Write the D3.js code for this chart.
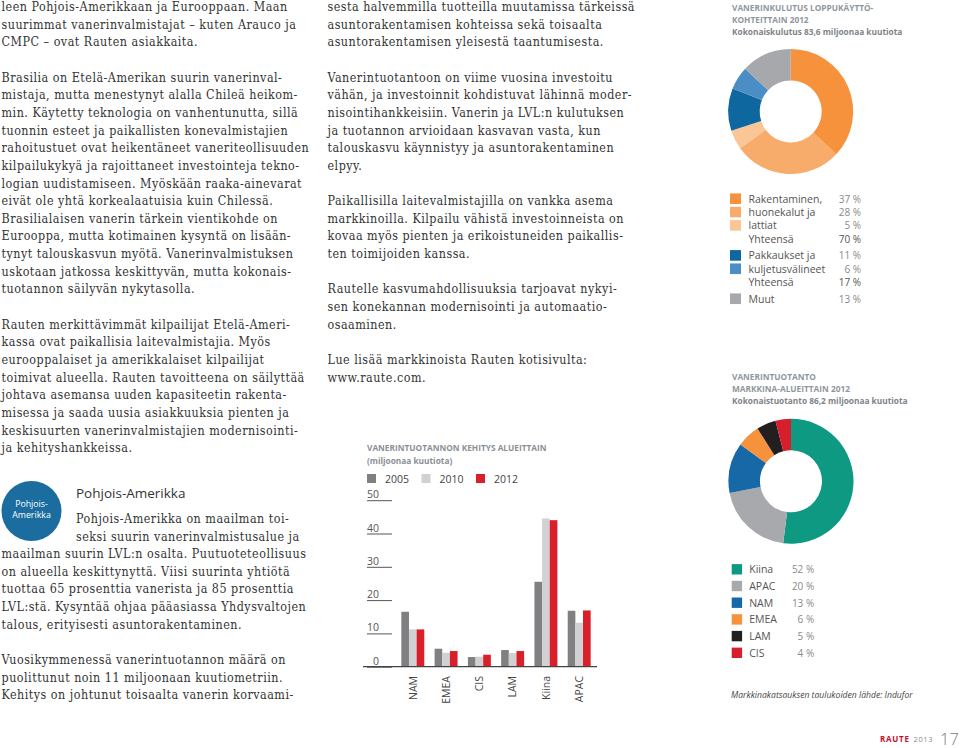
<!DOCTYPE html>
<html>
<head>
<meta charset="utf-8">
<script src="https://cdn.jsdelivr.net/npm/d3@7"></script>
<style>
  body { margin: 0; background: #fff; }
  svg { display: block; }
  .body-text { font-family: "DejaVu Serif", serif; font-stretch: condensed; font-size: 12.4px; letter-spacing: 0.5px; fill: #333; }
  .sans { font-family: "Open Sans", sans-serif; }
</style>
</head>
<body>
<script>
// --- bar chart: vanerintuotannon kehitys alueittain (milj. m3)
var regions = ["NAM", "EMEA", "CIS", "LAM", "Kiina", "APAC"];
var years = ["2005", "2010", "2012"];
var v2005 = [16.5, 5.4, 2.9, 5.0, 25.5, 16.8];
var v2010 = [11.2, 4.2, 3.0, 4.1, 44.5, 13.2];
var v2012 = [11.2, 4.7, 3.6, 4.7, 44.0, 16.9];
var yTicks = [0, 10, 20, 30, 40, 50];
var yearColors = ["#808083", "#d1d1d3", "#d81f2a"];

// --- donut 1: vanerinkulutus loppukäyttökohteittain 2012 (%)
var useLabels = ["Rakentaminen,", "huonekalut ja", "lattiat", "Pakkaukset ja", "kuljetusvälineet", "Muut"];
var useShares = [37, 28, 5, 11, 6, 13];
var useGroups = [0, 0, 0, 1, 1, 2];
var useColors = ["#f6923b", "#f8ac6b", "#fbc695", "#0f67a0", "#4b8ec6", "#a7a8ab"];

// --- donut 2: vanerintuotanto markkina-alueittain 2012 (%)
var areaLabels = ["Kiina", "APAC", "NAM", "EMEA", "LAM", "CIS"];
var areaShares = [52, 20, 13, 6, 5, 4];
var areaColors = ["#0e9983", "#a8a9ac", "#1668a7", "#f6923b", "#231f20", "#d71f2b"];

// --- body text
var col1 = [
  "leen Pohjois-Amerikkaan ja Eurooppaan. Maan",
  "suurimmat vanerinvalmistajat – kuten Arauco ja",
  "CMPC – ovat Rauten asiakkaita.",
  "",
  "Brasilia on Etelä-Amerikan suurin vanerinval-",
  "mistaja, mutta menestynyt alalla Chileä heikom-",
  "min. Käytetty teknologia on vanhentunutta, sillä",
  "tuonnin esteet ja paikallisten konevalmistajien",
  "rahoitustuet ovat heikentäneet vaneriteollisuuden",
  "kilpailukykyä ja rajoittaneet investointeja tekno-",
  "logian uudistamiseen. Myöskään raaka-ainevarat",
  "eivät ole yhtä korkealaatuisia kuin Chilessä.",
  "Brasilialaisen vanerin tärkein vientikohde on",
  "Eurooppa, mutta kotimainen kysyntä on lisään-",
  "tynyt talouskasvun myötä. Vanerinvalmistuksen",
  "uskotaan jatkossa keskittyvän, mutta kokonais-",
  "tuotannon säilyvän nykytasolla.",
  "",
  "Rauten merkittävimmät kilpailijat Etelä-Ameri-",
  "kassa ovat paikallisia laitevalmistajia. Myös",
  "eurooppalaiset ja amerikkalaiset kilpailijat",
  "toimivat alueella. Rauten tavoitteena on säilyttää",
  "johtava asemansa uuden kapasiteetin rakenta-",
  "misessa ja saada uusia asiakkuuksia pienten ja",
  "keskisuurten vanerinvalmistajien modernisointi-",
  "ja kehityshankkeissa."
];
var pohjois = [
  "Pohjois-Amerikka on maailman toi-",
  "seksi suurin vanerinvalmistusalue ja",
  "maailman suurin LVL:n osalta. Puutuoteteollisuus",
  "on alueella keskittynyttä. Viisi suurinta yhtiötä",
  "tuottaa 65 prosenttia vanerista ja 85 prosenttia",
  "LVL:stä. Kysyntää ohjaa pääasiassa Yhdysvaltojen",
  "talous, erityisesti asuntorakentaminen.",
  "",
  "Vuosikymmenessä vanerintuotannon määrä on",
  "puolittunut noin 11 miljoonaan kuutiometriin.",
  "Kehitys on johtunut toisaalta vanerin korvaami-"
];
var col2 = [
  "sesta halvemmilla tuotteilla muutamissa tärkeissä",
  "asuntorakentamisen kohteissa sekä toisaalta",
  "asuntorakentamisen yleisestä taantumisesta.",
  "",
  "Vanerintuotantoon on viime vuosina investoitu",
  "vähän, ja investoinnit kohdistuvat lähinnä moder-",
  "nisointihankkeisiin. Vanerin ja LVL:n kulutuksen",
  "ja tuotannon arvioidaan kasvavan vasta, kun",
  "talouskasvu käynnistyy ja asuntorakentaminen",
  "elpyy.",
  "",
  "Paikallisilla laitevalmistajilla on vankka asema",
  "markkinoilla. Kilpailu vähistä investoinneista on",
  "kovaa myös pienten ja erikoistuneiden paikallis-",
  "ten toimijoiden kanssa.",
  "",
  "Rautelle kasvumahdollisuuksia tarjoavat nykyi-",
  "sen konekannan modernisointi ja automaatio-",
  "osaaminen.",
  "",
  "Lue lisää markkinoista Rauten kotisivulta:",
  "www.raute.com."
];

var W = 960, H = 748;
var lineH = 17.65, base0 = 11;

var svg = d3.select("body").append("svg")
    .attr("width", W)
    .attr("height", H);

function textBlock(lines, x, n0, indentLines, indentX) {
  svg.append("g").selectAll("text")
     .data(lines)
     .enter().append("text")
     .attr("class", "body-text")
     .attr("x", function(d, i) { return i < indentLines ? indentX : x; })
     .attr("y", function(d, i) { return base0 + (n0 + i) * lineH; })
     .text(function(d) { return d; });
}

textBlock(col1, 1.5, 0, 0, 0);
textBlock(pohjois, 1.5, 29, 2, 76);
textBlock(col2, 327.5, 0, 0, 0);

// Pohjois-Amerikka badge + heading
svg.append("circle").attr("cx", 31.5).attr("cy", 511).attr("r", 30).attr("fill", "#1a6d9e");
svg.append("text").attr("class", "sans").attr("x", 31.5).attr("y", 507)
   .attr("text-anchor", "middle").attr("font-size", 8.8).attr("fill", "#fff").text("Pohjois-");
svg.append("text").attr("class", "sans").attr("x", 31.5).attr("y", 518)
   .attr("text-anchor", "middle").attr("font-size", 8.8).attr("fill", "#fff").text("Amerikka");
svg.append("text").attr("class", "sans").attr("x", 76).attr("y", 498)
   .attr("font-size", 13.5).attr("fill", "#333").text("Pohjois-Amerikka");

// ---------------- bar chart
var title3 = ["VANERINTUOTANNON KEHITYS ALUEITTAIN", "(miljoonaa kuutiota)"];
svg.append("g").selectAll("text").data(title3).enter().append("text")
   .attr("class", "sans").attr("x", 367).attr("y", function(d, i) { return 450.5 + i * 13; })
   .attr("font-size", 8.3).attr("font-weight", 700).attr("fill", "#8b9096")
   .text(function(d) { return d; });

var leg = svg.append("g").selectAll("g").data(years).enter().append("g")
   .attr("transform", function(d, i) { return "translate(" + (367 + i * 54.5) + ",474)"; });
leg.append("rect").attr("width", 9).attr("height", 9)
   .attr("fill", function(d, i) { return yearColors[i]; });
leg.append("text").attr("class", "sans").attr("x", 18).attr("y", 8.8)
   .attr("font-size", 10.5).attr("fill", "#444").text(function(d) { return d; });

var y = d3.scaleLinear().domain([0, 50]).range([666.7, 500.2]);
var x0 = d3.scaleBand().domain(regions).range([396, 596]).paddingInner(0.31).paddingOuter(0.16);
var x1 = d3.scaleBand().domain(years).range([0, x0.bandwidth()]);

var yAxis = svg.append("g")
   .attr("transform", "translate(367,0)")
   .call(d3.axisRight(y).tickValues(yTicks).tickSize(25));
yAxis.select(".domain").remove();
yAxis.selectAll("line").attr("stroke", "#555");
yAxis.selectAll("text")
   .attr("x", 12).attr("y", -2.5).attr("dy", 0)
   .attr("text-anchor", "end")
   .attr("font-family", "Open Sans, sans-serif").attr("font-size", 10.5).attr("fill", "#555");

var series = [v2005, v2010, v2012];
var groups = svg.append("g").selectAll("g")
   .data(regions).enter().append("g")
   .attr("transform", function(d) { return "translate(" + x0(d) + ",0)"; });
groups.selectAll("rect")
   .data(function(d, i) { return years.map(function(yr, k) { return { yr: yr, k: k, v: series[k][i] }; }); })
   .enter().append("rect")
   .attr("x", function(d) { return x1(d.yr); })
   .attr("width", x1.bandwidth())
   .attr("y", function(d) { return y(d.v); })
   .attr("height", function(d) { return y(0) - y(d.v); })
   .attr("fill", function(d) { return yearColors[d.k]; });

svg.append("line").attr("x1", 363).attr("x2", 597).attr("y1", y(0)).attr("y2", y(0))
   .attr("stroke", "#444").attr("stroke-width", 1.2);

svg.append("g").selectAll("text").data(regions).enter().append("text")
   .attr("class", "sans")
   .attr("transform", function(d) { return "translate(" + (x0(d) + x0.bandwidth() / 2 + 3.8) + ",676) rotate(-90)"; })
   .attr("text-anchor", "end").attr("font-size", 10.5).attr("fill", "#444")
   .text(function(d) { return d; });

// ---------------- donuts
function donut(cx, cy, shares, colors) {
  var pie = d3.pie().sort(null);
  var arc = d3.arc().innerRadius(31).outerRadius(62.5);
  svg.append("g").attr("transform", "translate(" + cx + "," + cy + ")")
     .selectAll("path").data(pie(shares)).enter().append("path")
     .attr("d", arc)
     .attr("fill", function(d, i) { return colors[i]; });
}

function titleBlock(lines, y0) {
  svg.append("g").selectAll("text").data(lines).enter().append("text")
     .attr("class", "sans").attr("x", 732)
     .attr("y", function(d, i) { return y0 + i * 12; })
     .attr("font-size", 8.3).attr("font-weight", 700)
     .attr("fill", function(d, i) { return i == lines.length - 1 ? "#7e848a" : "#8f979e"; })
     .text(function(d) { return d; });
}

titleBlock(["VANERINKULUTUS LOPPUKÄYTTÖ-", "KOHTEITTAIN 2012", "Kokonaiskulutus 83,6 miljoonaa kuutiota"], 10.5);
donut(790.7, 111.5, useShares, useColors);

// legend 1 with subtotals
var useRows = [];
useLabels.forEach(function(l, i) {
  useRows.push({ label: l, pct: useShares[i], color: useColors[i], group: useGroups[i], total: false });
  var last = i == useLabels.length - 1 || useGroups[i + 1] != useGroups[i];
  var inGroup = useGroups.filter(function(g) { return g == useGroups[i]; }).length;
  if (last && inGroup > 1) {
    var sum = d3.sum(useShares.filter(function(s, k) { return useGroups[k] == useGroups[i]; }));
    useRows.push({ label: "Yhteensä", pct: sum, color: null, group: useGroups[i], total: true });
  }
});
var l1 = svg.append("g").selectAll("g").data(useRows).enter().append("g")
   .attr("transform", function(d, i) { return "translate(730," + (198.7 + i * 13.35 + d.group * 3.3) + ")"; });
l1.filter(function(d) { return d.color; }).append("rect")
   .attr("y", -5.3).attr("width", 11).attr("height", 10.6)
   .attr("fill", function(d) { return d.color; });
l1.append("text").attr("class", "sans").attr("x", 18.5).attr("y", 3.8)
   .attr("font-size", 10.5).attr("fill", "#555").text(function(d) { return d.label; });
l1.append("text").attr("class", "sans").attr("x", 131).attr("y", 3.8)
   .attr("text-anchor", "end").attr("font-size", 10)
   .attr("fill", function(d) { return d.total ? "#555" : "#8a8a8a"; })
   .text(function(d) { return d.pct + " %"; });

titleBlock(["VANERINTUOTANTO", "MARKKINA-ALUEITTAIN 2012", "Kokonaistuotanto 86,2 miljoonaa kuutiota"], 380);
donut(791, 481.3, areaShares, areaColors);

var l2 = svg.append("g").selectAll("g").data(areaLabels).enter().append("g")
   .attr("transform", function(d, i) { return "translate(731.7," + (569.3 + i * 16.7) + ")"; });
l2.append("rect").attr("y", -5.2).attr("width", 10.4).attr("height", 10.4)
   .attr("fill", function(d, i) { return areaColors[i]; });
l2.append("text").attr("class", "sans").attr("x", 17.5).attr("y", 3.8)
   .attr("font-size", 10.5).attr("fill", "#555").text(function(d) { return d; });
l2.append("text").attr("class", "sans").attr("x", 82.5).attr("y", 3.8)
   .attr("text-anchor", "end").attr("font-size", 10).attr("fill", "#8a8a8a")
   .text(function(d, i) { return areaShares[i] + " %"; });

svg.append("text").attr("class", "sans").attr("x", 731).attr("y", 697.5)
   .attr("font-size", 8.6).attr("font-style", "italic").attr("fill", "#444")
   .text("Markkinakatsauksen taulukoiden lähde: Indufor");

// footer
svg.append("text").attr("class", "sans").attr("x", 880).attr("y", 742)
   .attr("font-size", 8).attr("font-weight", 700).attr("fill", "#c8102e")
   .attr("textLength", 29).attr("lengthAdjust", "spacing")
   .text("RAUTE");
svg.append("text").attr("class", "sans").attr("x", 913.5).attr("y", 742)
   .attr("font-size", 7.5).attr("fill", "#8a8a8a")
   .attr("textLength", 19).attr("lengthAdjust", "spacing")
   .text("2013");
svg.append("text").attr("class", "sans").attr("x", 940)
   .attr("y", 745)
   .attr("font-size", 16.5).attr("font-weight", 300).attr("fill", "#7a7a7a")
   .text("17");
</script>
</body>
</html>
